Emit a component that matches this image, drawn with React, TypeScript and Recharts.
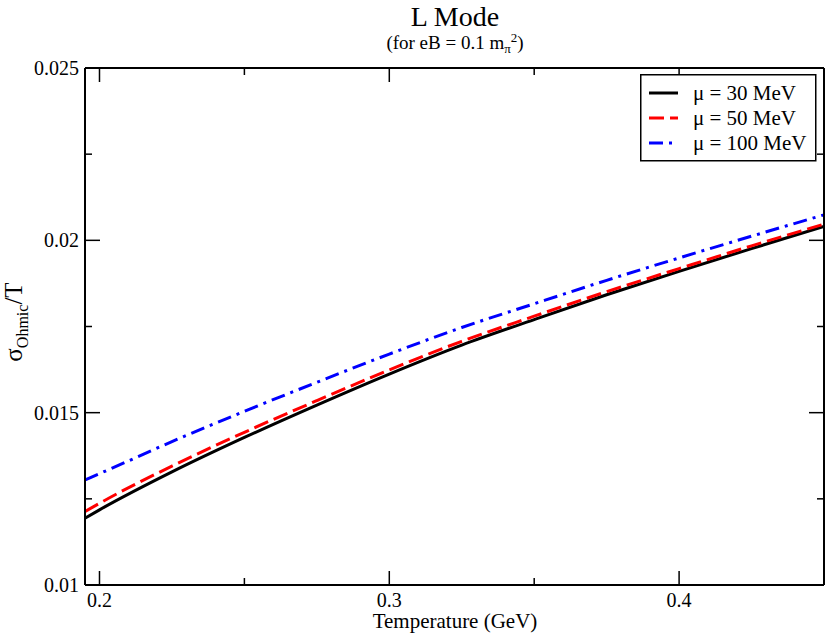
import React from 'react';
import { LineChart, Line, XAxis, YAxis, Legend } from 'recharts';

const TEMPERATURE = [0.195, 0.2, 0.225, 0.25, 0.275, 0.3, 0.325, 0.35, 0.375, 0.4, 0.425, 0.45];
const MU_30 = [0.01194, 0.01218, 0.01328, 0.01428, 0.01522, 0.01612, 0.01696, 0.0177, 0.01842, 0.0191, 0.01976, 0.0204];
const MU_50 = [0.01213, 0.01237, 0.01345, 0.01443, 0.01535, 0.01624, 0.01707, 0.0178, 0.01851, 0.01918, 0.01984, 0.02047];
const MU_100 = [0.01305, 0.01323, 0.01416, 0.01504, 0.01588, 0.0167, 0.01747, 0.01816, 0.01884, 0.01949, 0.02012, 0.02074];

const X_TICKS = [0.2, 0.25, 0.3, 0.35, 0.4, 0.45];
const X_MAJOR = [0.2, 0.3, 0.4];
const Y_TICKS = [0.01, 0.0125, 0.015, 0.0175, 0.02, 0.0225, 0.025];
const Y_MAJOR = [0.01, 0.015, 0.02, 0.025];
const SERIES_NAMES = ['μ = 30 MeV', 'μ = 50 MeV', 'μ = 100 MeV'];

const data = TEMPERATURE.map((t, i) => ({ t, mu30: MU_30[i], mu50: MU_50[i], mu100: MU_100[i] }));

const FONT = '"Liberation Serif", "Times New Roman", serif';
const X_DOMAIN: [number, number] = [0.195, 0.45];
const Y_DOMAIN: [number, number] = [0.01, 0.025];

const isMajor = (v: number, majors: number[]) => majors.some((m) => Math.abs(m - v) < 1e-9);

const BottomTick = (props: any) => {
  const { x, y, payload } = props;
  const major = isMajor(payload.value, X_MAJOR);
  return (
    <g>
      <line x1={x} x2={x} y1={y} y2={y - (major ? 14 : 7)} stroke="#000" strokeWidth={1.5} />
      {major && (
        <text x={x} y={y + 22} textAnchor="middle" fontSize={20} fontFamily={FONT} fill="#000">
          {String(payload.value)}
        </text>
      )}
    </g>
  );
};

const TopTick = (props: any) => {
  const { x, y, payload } = props;
  const major = isMajor(payload.value, X_MAJOR);
  return <line x1={x} x2={x} y1={y} y2={y + (major ? 14 : 7)} stroke="#000" strokeWidth={1.5} />;
};

const LeftTick = (props: any) => {
  const { x, y, payload } = props;
  const major = isMajor(payload.value, Y_MAJOR);
  return (
    <g>
      <line x1={x} x2={x + (major ? 15 : 7)} y1={y} y2={y} stroke="#000" strokeWidth={1.5} />
      {major && (
        <text x={x - 6} y={y + 7} textAnchor="end" fontSize={20} fontFamily={FONT} fill="#000">
          {String(payload.value)}
        </text>
      )}
    </g>
  );
};

const RightTick = (props: any) => {
  const { x, y, payload } = props;
  const major = isMajor(payload.value, Y_MAJOR);
  return <line x1={x} x2={x - (major ? 15 : 7)} y1={y} y2={y} stroke="#000" strokeWidth={1.5} />;
};

const LegendBox = (props: any) => {
  const payload = [...(props.payload || [])].sort(
    (a: any, b: any) => SERIES_NAMES.indexOf(a.value) - SERIES_NAMES.indexOf(b.value)
  );
  return (
    <svg width={177} height={89} style={{ display: 'block' }}>
      <rect x={0.75} y={0.75} width={175} height={86} fill="#fff" stroke="#000" strokeWidth={1.5} />
      {payload.map((entry: any, i: number) => {
        const cy = 19 + i * 25;
        return (
          <g key={i}>
            <line
              x1={9}
              x2={38}
              y1={cy}
              y2={cy}
              stroke={entry.color}
              strokeWidth={3}
              strokeDasharray={entry.payload && entry.payload.strokeDasharray}
            />
            <text x={53} y={cy + 7} fontSize={21} fontFamily={FONT} fill="#000">
              {entry.value}
            </text>
          </g>
        );
      })}
    </svg>
  );
};

export default function App() {
  return (
    <div style={{ position: 'absolute', left: 0, top: 0, width: 828, height: 635, background: '#fff' }}>
      <LineChart width={828} height={635} data={data} margin={{ top: 0, right: 0, bottom: 0, left: 0 }}>
        <XAxis
          xAxisId="bottom"
          dataKey="t"
          type="number"
          domain={X_DOMAIN}
          ticks={X_TICKS}
          interval={0}
          allowDataOverflow
          height={50}
          tickSize={0}
          tickMargin={0}
          tickLine={false}
          axisLine={{ stroke: '#000', strokeWidth: 2 }}
          tick={BottomTick}
        />
        <XAxis
          xAxisId="top"
          orientation="top"
          dataKey="t"
          type="number"
          domain={X_DOMAIN}
          ticks={X_TICKS}
          interval={0}
          allowDataOverflow
          height={68}
          tickSize={0}
          tickMargin={0}
          tickLine={false}
          axisLine={{ stroke: '#000', strokeWidth: 2 }}
          tick={TopTick}
        />
        <YAxis
          yAxisId="left"
          type="number"
          domain={Y_DOMAIN}
          ticks={Y_TICKS}
          interval={0}
          allowDataOverflow
          width={85}
          tickSize={0}
          tickMargin={0}
          tickLine={false}
          axisLine={{ stroke: '#000', strokeWidth: 2 }}
          tick={LeftTick}
        />
        <YAxis
          yAxisId="right"
          orientation="right"
          type="number"
          domain={Y_DOMAIN}
          ticks={Y_TICKS}
          interval={0}
          allowDataOverflow
          width={4}
          tickSize={0}
          tickMargin={0}
          tickLine={false}
          axisLine={{ stroke: '#000', strokeWidth: 2 }}
          tick={RightTick}
        />
        <Legend
          layout="vertical"
          align="center"
          verticalAlign="middle"
          content={LegendBox}
          wrapperStyle={{ left: 640, top: 74, width: 177, height: 89 }}
        />
        <Line
          xAxisId="bottom"
          yAxisId="left"
          type="monotone"
          dataKey="mu30"
          name={SERIES_NAMES[0]}
          stroke="#000000"
          strokeWidth={3}
          dot={false}
          isAnimationActive={false}
        />
        <Line
          xAxisId="bottom"
          yAxisId="left"
          type="monotone"
          dataKey="mu50"
          name={SERIES_NAMES[1]}
          stroke="#ff0000"
          strokeWidth={3}
          strokeDasharray="15 6"
          dot={false}
          isAnimationActive={false}
        />
        <Line
          xAxisId="bottom"
          yAxisId="left"
          type="monotone"
          dataKey="mu100"
          name={SERIES_NAMES[2]}
          stroke="#0000ff"
          strokeWidth={3}
          strokeDasharray="14 6 3 6"
          dot={false}
          isAnimationActive={false}
        />
      </LineChart>
      <svg
        width={828}
        height={635}
        style={{ position: 'absolute', left: 0, top: 0, pointerEvents: 'none' }}
      >
        <text x={455} y={26} textAnchor="middle" fontSize={28} fontFamily={FONT} fill="#000">
          L Mode
        </text>
        <text x={455} y={49} textAnchor="middle" fontSize={19} fontFamily={FONT} fill="#000">
          (for eB = 0.1 m
          <tspan dy={4} fontSize={13}>π</tspan>
          <tspan dy={-11} fontSize={13}>2</tspan>
          <tspan dy={7}>)</tspan>
        </text>
        <text
          x={22}
          y={322}
          transform="rotate(-90, 22, 322)"
          textAnchor="middle"
          fontSize={25}
          fontFamily={FONT}
          fill="#000"
        >
          σ<tspan dy={6} fontSize={16}>Ohmic</tspan>
          <tspan dy={-6}>/T</tspan>
        </text>
        <text x={455} y={628} textAnchor="middle" fontSize={21} fontFamily={FONT} fill="#000">
          Temperature (GeV)
        </text>
      </svg>
    </div>
  );
}
